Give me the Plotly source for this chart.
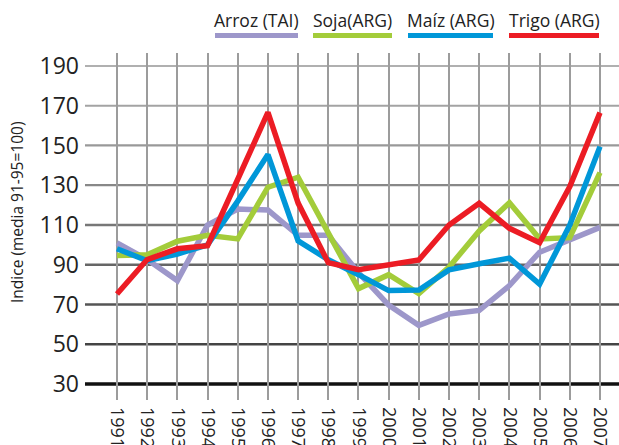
import plotly.graph_objects as go

years = list(range(1991, 2008))
arroz = [101, 92.6, 82, 110, 118, 117.5, 104.8, 104.8, 86, 69.7, 59.5, 65.2, 67, 79.5, 96.3, 102.5, 108.8]
soja = [94.7, 95, 101.8, 104.8, 103, 129, 134, 106, 78, 85, 75.5, 88.8, 107, 121.2, 103, 103.6, 136.3]
maiz = [98, 92, 95.4, 100, 122, 145.4, 102, 92.5, 85, 77, 77.3, 87.4, 90.5, 93.3, 80.2, 110, 149.4]
trigo = [75.3, 92.6, 98, 99.6, 133, 166.6, 121, 91, 87.5, 89.9, 92.4, 110, 120.9, 108.3, 101.1, 129.3, 166.5]

series_names = ["Arroz (TAI)", "Soja(ARG)", "Maíz (ARG)", "Trigo (ARG)"]
series_values = [arroz, soja, maiz, trigo]
series_colors = ["#9d97ca", "#a3cc3a", "#0097d8", "#ec1c24"]

y_ticks = [30, 50, 70, 90, 110, 130, 150, 170, 190]
grid_colors = ["#111111", "#444444", "#555555", "#666666", "#777777", "#888888", "#999999", "#a3a3a3", "#b0b0b0"]
grid_widths = [3.5, 2.5, 2.5, 2.5, 2.5, 2.2, 2.2, 2, 2]

x_tick_labels = [str(y) for y in years]

W, H = 619, 445
ML, MR, MT, MB = 85, 0, 53, 45
PW, PH = W - ML - MR, H - MT - MB

def px_to_paper_x(px):
    return (px - ML) / PW

def py_to_paper_y(py):
    return (H - MB - py) / PH

fig = go.Figure()
for name, vals, col in zip(series_names, series_values, series_colors):
    fig.add_trace(go.Scatter(x=years, y=vals, name=name, mode="lines",
                             line=dict(color=col, width=5.5), showlegend=False))

shapes = []
for v, c, w in zip(y_ticks, grid_colors, grid_widths):
    shapes.append(dict(type="line", xref="paper", yref="y", x0=0, x1=1, y0=v, y1=v,
                       line=dict(color=c, width=w), layer="below"))

# custom legend: text above a thick coloured bar
legend_spans = [(215, 298), (313, 392), (408, 493), (509, 599)]
annotations = []
for (a, b), name, col in zip(legend_spans, series_names, series_colors):
    shapes.append(dict(type="line", xref="paper", yref="paper",
                       x0=px_to_paper_x(a), x1=px_to_paper_x(b),
                       y0=py_to_paper_y(35.5), y1=py_to_paper_y(35.5),
                       line=dict(color=col, width=5)))
    annotations.append(dict(xref="paper", yref="paper", x=px_to_paper_x((a + b) / 2),
                            y=py_to_paper_y(20), text=name, showarrow=False,
                            xanchor="center", yanchor="middle",
                            font=dict(size=17.5, color="#222222", family="Open Sans")))

annotations.append(dict(xref="paper", yref="paper", x=px_to_paper_x(17), y=py_to_paper_y(212),
                        text="Indice (media 91-95=100)", textangle=-90, showarrow=False,
                        xanchor="center", yanchor="middle",
                        font=dict(size=15.5, color="#222222", family="Open Sans")))

fig.update_layout(
    width=W, height=H,
    margin=dict(l=ML, r=MR, t=MT, b=MB, pad=0, autoexpand=False),
    paper_bgcolor="white", plot_bgcolor="white",
    shapes=shapes, annotations=annotations,
    showlegend=False,
    font=dict(family="Open Sans", color="#222222"),
)
fig.update_xaxes(range=[1989.94, 2007.63], tickmode="array", tickvals=years, ticktext=x_tick_labels,
                 tickangle=90, showgrid=True, gridcolor="#9c9c9c", gridwidth=1.5,
                 zeroline=False, showline=False, ticks="", ticklabelstandoff=6, automargin=False,
                 tickfont=dict(size=18, color="#222222", family="Open Sans"))
fig.update_yaxes(range=[21.95, 196.5], tickmode="array", tickvals=y_ticks,
                 ticktext=[str(v) for v in y_ticks], showgrid=False, zeroline=False,
                 showline=False, ticks="", ticklabelstandoff=5, automargin=False,
                 tickfont=dict(size=23, color="#222222", family="Open Sans"))

fig.write_html("out.html", config={"displayModeBar": False},
               post_script="document.body.style.margin='0px';document.body.style.padding='0px';")
